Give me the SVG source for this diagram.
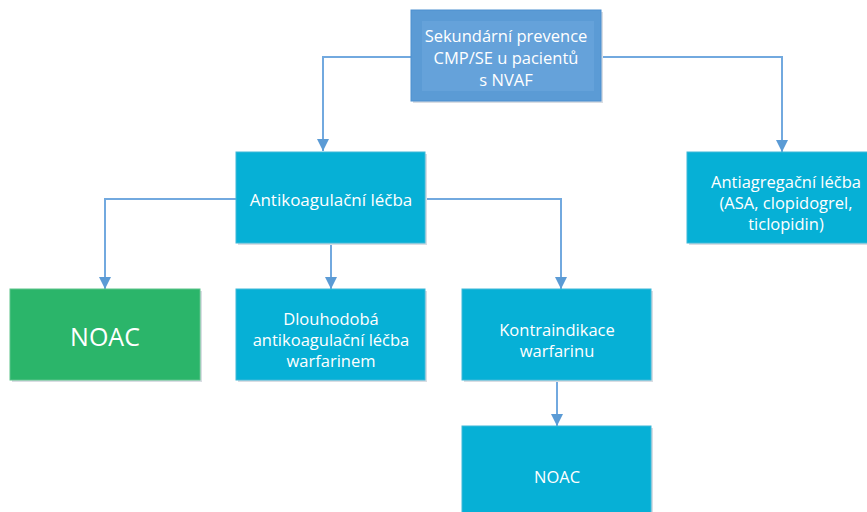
<svg xmlns="http://www.w3.org/2000/svg" width="867" height="512" viewBox="0 0 867 512">
<style>
.t{font-family:"Open Sans","Noto Sans",sans-serif;fill:#ffffff;text-anchor:middle;dominant-baseline:central;font-size:16.5px}
.c{fill:#06b0d6;stroke:#3fb8d8;stroke-width:1}
.g{fill:#2bb56a;stroke:#5cc38a;stroke-width:1}
.sh{fill:#d9dde3}
.ln{fill:none;stroke:#72a9df;stroke-width:2}
</style>
<defs>
<marker id="ar" viewBox="0 0 10 10" refX="10" refY="5" markerWidth="12" markerHeight="12" markerUnits="userSpaceOnUse" orient="auto">
<path d="M0,0 L10,5 L0,10 Z" fill="#5b9bd5"/>
</marker>
</defs>
<rect width="867" height="512" fill="#ffffff"/>
<g id="connectors">
<path class="ln" d="M411,57 H323 V151" marker-end="url(#ar)"/>
<path class="ln" d="M601,57 H782 V152" marker-end="url(#ar)"/>
<path class="ln" d="M236,199 H105 V289" marker-end="url(#ar)"/>
<path class="ln" d="M331,243 V289" marker-end="url(#ar)"/>
<path class="ln" d="M425,199 H561 V289" marker-end="url(#ar)"/>
<path class="ln" d="M557,380 V426" marker-end="url(#ar)"/>
</g>
<g id="n-top">
<rect class="sh" x="413" y="12" width="190" height="91"/>
<rect x="411" y="10" width="190" height="91" fill="#5b9bd5" stroke="#4d8fcf" stroke-width="1"/>
<rect x="422" y="21" width="172" height="70" fill="#65a2da"/>
<text class="t" x="506" y="35">Sekundární prevence</text>
<text class="t" x="506" y="57">CMP/SE u pacientů</text>
<text class="t" x="506" y="79">s NVAF</text>
</g>
<g id="n-antikoag">
<rect class="sh" x="238" y="154" width="189" height="91"/>
<rect class="c" x="236" y="152" width="189" height="91"/>
<text class="t" x="331" y="199" style="font-size:17px">Antikoagulační léčba</text>
</g>
<g id="n-antiagreg">
<rect class="sh" x="689" y="154" width="190" height="91"/>
<rect class="c" x="687" y="152" width="190" height="91"/>
<text class="t" x="786" y="181">Antiagregační léčba</text>
<text class="t" x="786" y="202">(ASA, clopidogrel,</text>
<text class="t" x="786" y="223">ticlopidin)</text>
</g>
<g id="n-noac1">
<rect class="sh" x="12" y="291" width="190" height="91"/>
<rect class="g" x="10" y="289" width="190" height="91"/>
<text class="t" x="105" y="336" style="font-size:25px">NOAC</text>
</g>
<g id="n-dlouho">
<rect class="sh" x="238" y="291" width="189" height="91"/>
<rect class="c" x="236" y="289" width="189" height="91"/>
<text class="t" x="331" y="318">Dlouhodobá</text>
<text class="t" x="331" y="339">antikoagulační léčba</text>
<text class="t" x="331" y="360">warfarinem</text>
</g>
<g id="n-kontra">
<rect class="sh" x="464" y="291" width="189" height="91"/>
<rect class="c" x="462" y="289" width="189" height="91"/>
<text class="t" x="557" y="329">Kontraindikace</text>
<text class="t" x="557" y="350">warfarinu</text>
</g>
<g id="n-noac2">
<rect class="sh" x="464" y="428" width="189" height="91"/>
<rect class="c" x="462" y="426" width="189" height="91"/>
<text class="t" x="557" y="476">NOAC</text>
</g>
</svg>
